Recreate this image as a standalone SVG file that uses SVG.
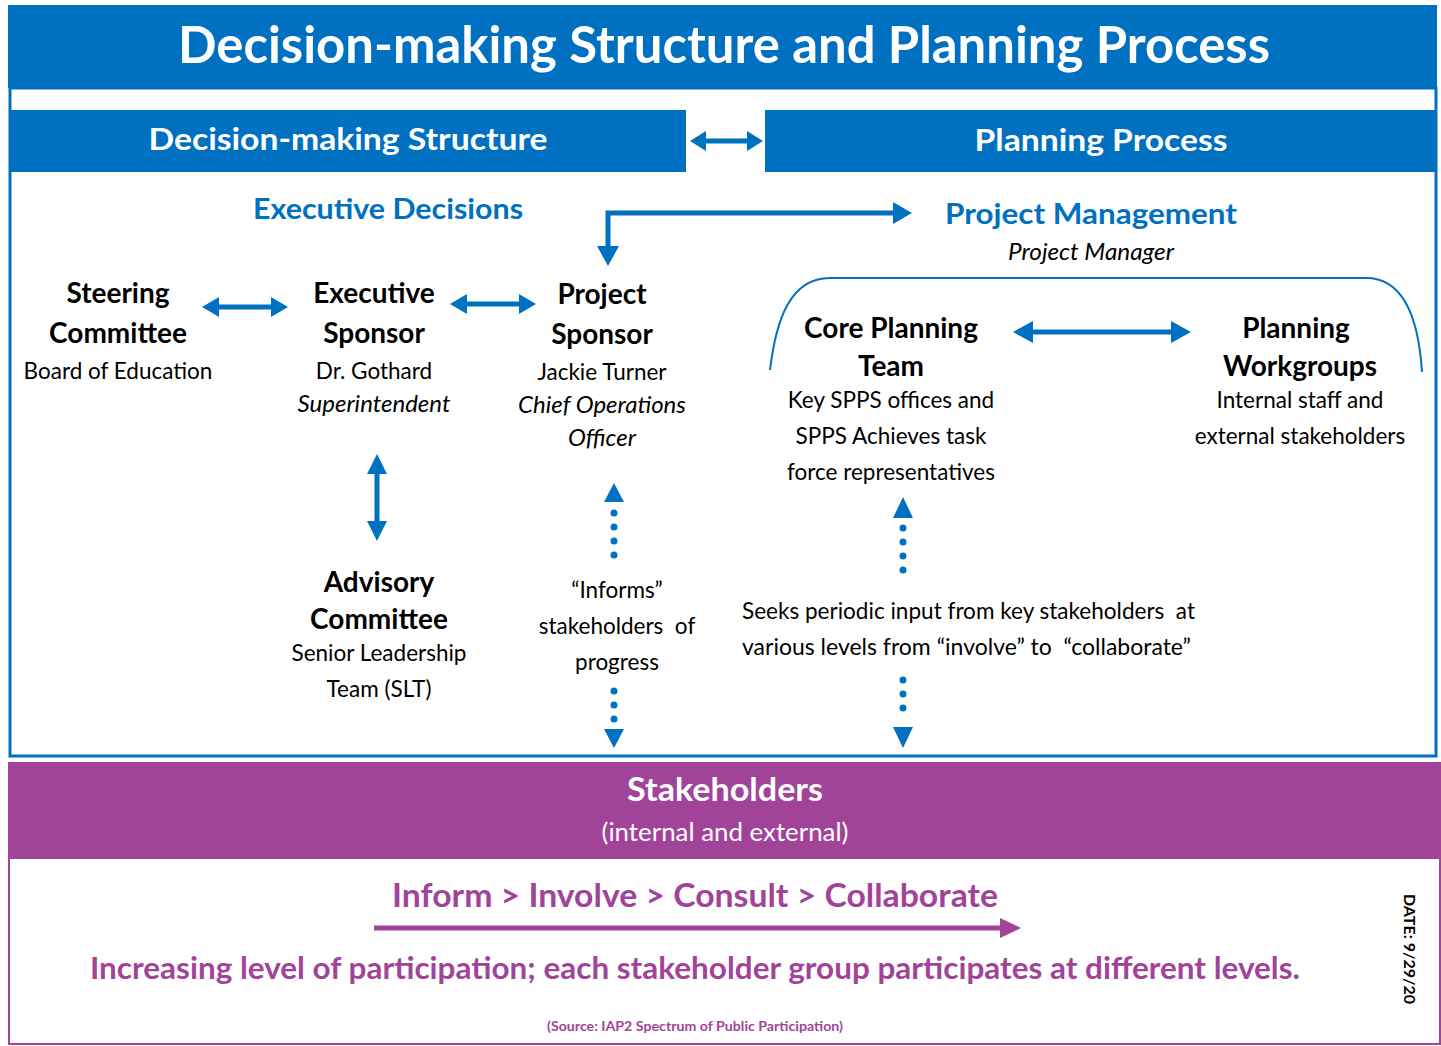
<svg xmlns="http://www.w3.org/2000/svg" width="1441" height="1046" viewBox="0 0 1441 1046">
<defs>
<style>
text{font-family:Lato,"Open Sans","Liberation Sans",sans-serif;text-anchor:middle}
.w{fill:#fff;font-weight:bold}
.h{fill:#0070C0;font-weight:bold;font-size:29px}
.b{fill:#000;font-weight:bold;font-size:28px}
.r{fill:#000;font-size:22.5px}
.i{fill:#000;font-size:24px;font-style:italic}
.p{fill:#A2439A;font-weight:bold}
.ln{stroke:#0070C0;stroke-width:5;fill:none}
.dot{stroke:#0070C0;stroke-width:7;stroke-linecap:round;stroke-dasharray:0 14;fill:none}
.ah{fill:#0070C0}
</style>
</defs>
<rect x="0" y="0" width="1441" height="1046" fill="#fff"/>
<!-- frames -->
<rect x="10" y="88" width="1426" height="668" fill="#fff" stroke="#0070C0" stroke-width="3"/>
<rect x="8" y="5" width="1429" height="83" fill="#0070C0"/>
<text class="w" x="724" y="63" font-size="52" textLength="1092" lengthAdjust="spacingAndGlyphs">Decision-making Structure and Planning Process</text>
<g id="hdr-dms">
<rect x="10" y="110" width="676" height="62" fill="#0070C0"/>
<text class="w" x="348" y="150" font-size="30" textLength="399" lengthAdjust="spacingAndGlyphs">Decision-making Structure</text>
</g>
<g id="hdr-pp">
<rect x="765" y="110" width="671" height="62" fill="#0070C0"/>
<text class="w" x="1101" y="151" font-size="30" textLength="253" lengthAdjust="spacingAndGlyphs">Planning Process</text>
</g>
<g id="exec-decisions"><text class="h" x="388" y="219" textLength="270" lengthAdjust="spacingAndGlyphs">Executive Decisions</text></g>
<g id="project-management">
<text class="h" x="1091" y="224" textLength="292" lengthAdjust="spacingAndGlyphs">Project Management</text>
<text class="i" x="1091" y="260" textLength="166" lengthAdjust="spacingAndGlyphs">Project Manager</text>
<path d="M770,370 C776,320 790,278 830,278 L1366,278 C1400,278 1418,310 1422,372" fill="none" stroke="#0070C0" stroke-width="2"/>
</g>
<!-- nodes -->
<g id="steering">
<text class="b" x="118" y="303">Steering</text>
<text class="b" x="118" y="343">Committee</text>
<text class="r" x="118" y="379">Board of Education</text>
</g>
<g id="exec-sponsor">
<text class="b" x="374" y="303">Executive</text>
<text class="b" x="374" y="343">Sponsor</text>
<text class="r" x="374" y="379">Dr. Gothard</text>
<text class="i" x="374" y="412">Superintendent</text>
</g>
<g id="project-sponsor">
<text class="b" x="602" y="304">Project</text>
<text class="b" x="602" y="344">Sponsor</text>
<text class="r" x="602" y="380">Jackie Turner</text>
<text class="i" x="602" y="413">Chief Operations</text>
<text class="i" x="602" y="446">Officer</text>
</g>
<g id="advisory">
<text class="b" x="379" y="592">Advisory</text>
<text class="b" x="379" y="629">Committee</text>
<text class="r" x="379" y="661">Senior Leadership</text>
<text class="r" x="379" y="697">Team (SLT)</text>
</g>
<g id="core-planning">
<text class="b" x="891" y="338">Core Planning</text>
<text class="b" x="891" y="376">Team</text>
<text class="r" x="891" y="408">Key SPPS offices and</text>
<text class="r" x="891" y="444">SPPS Achieves task</text>
<text class="r" x="891" y="480">force representatives</text>
</g>
<g id="workgroups">
<text class="b" x="1296" y="338">Planning</text>
<text class="b" x="1300" y="376">Workgroups</text>
<text class="r" x="1300" y="408">Internal staff and</text>
<text class="r" x="1300" y="444">external stakeholders</text>
</g>
<g id="informs-label">
<text class="r" x="617" y="598">“Informs”</text>
<text class="r" x="617" y="634" xml:space="preserve">stakeholders  of</text>
<text class="r" x="617" y="670">progress</text>
</g>
<g id="seeks-label">
<text class="r" x="742" y="619" style="text-anchor:start" xml:space="preserve" textLength="453" lengthAdjust="spacingAndGlyphs">Seeks periodic input from key stakeholders  at</text>
<text class="r" x="742" y="655" style="text-anchor:start" xml:space="preserve" textLength="449" lengthAdjust="spacingAndGlyphs">various levels from “involve” to  “collaborate”</text>
</g>
<g id="stakeholders">
<rect x="8" y="762" width="1433" height="96" fill="#A2439A"/>
<text class="w" x="725" y="801" font-size="33" textLength="196" lengthAdjust="spacingAndGlyphs">Stakeholders</text>
<text x="725" y="841" font-size="25" fill="#fff" textLength="247" lengthAdjust="spacingAndGlyphs">(internal and external)</text>
</g>
<g id="participation">
<rect x="9" y="858" width="1431" height="186" fill="#fff" stroke="#A2439A" stroke-width="2"/>
<text class="p" x="695" y="907" font-size="32" textLength="606" lengthAdjust="spacingAndGlyphs">Inform &gt; Involve &gt; Consult &gt; Collaborate</text>
<line x1="374" y1="928" x2="1002" y2="928" stroke="#A2439A" stroke-width="5"/>
<polygon points="1000,918 1021,928 1000,938" fill="#A2439A"/>
<text class="p" x="695" y="979" font-size="30" textLength="1210" lengthAdjust="spacingAndGlyphs">Increasing level of participation; each stakeholder group participates at different levels.</text>
<text class="p" x="695" y="1031" font-size="14" textLength="296" lengthAdjust="spacingAndGlyphs">(Source: IAP2 Spectrum of Public Participation)</text>
<text x="0" y="0" font-size="16" font-weight="bold" fill="#000" transform="translate(1404,949) rotate(90)">DATE: 9/29/20</text>
</g>
<!-- connectors -->
<g id="connectors">
<line class="ln" x1="704" y1="141" x2="748" y2="141"/>
<polygon class="ah" points="690,141 706,131 706,151"/>
<polygon class="ah" points="763,141 747,131 747,151"/>
<path class="ln" d="M608,248 L608,213 L896,213"/>
<polygon class="ah" points="912,213 893,202 893,224"/>
<polygon class="ah" points="608,266 597,246 619,246"/>
<line class="ln" x1="216" y1="307" x2="274" y2="307"/>
<polygon class="ah" points="202,307 219,297 219,317"/>
<polygon class="ah" points="288,307 271,297 271,317"/>
<line class="ln" x1="464" y1="304" x2="522" y2="304"/>
<polygon class="ah" points="450,304 467,294 467,314"/>
<polygon class="ah" points="536,304 519,294 519,314"/>
<line class="ln" x1="377" y1="470" x2="377" y2="525"/>
<polygon class="ah" points="377,454 367,474 387,474"/>
<polygon class="ah" points="377,541 367,521 387,521"/>
<line class="ln" x1="1028" y1="332" x2="1176" y2="332"/>
<polygon class="ah" points="1013,332 1033,321 1033,343"/>
<polygon class="ah" points="1191,332 1171,321 1171,343"/>
<polygon class="ah" points="614,483 604,502 624,502"/>
<line class="dot" x1="614" y1="513" x2="614" y2="568"/>
<line class="dot" x1="614" y1="691" x2="614" y2="720"/>
<polygon class="ah" points="614,748 604,729 624,729"/>
<polygon class="ah" points="903,497 893,518 913,518"/>
<line class="dot" x1="903" y1="528" x2="903" y2="584"/>
<line class="dot" x1="903" y1="680" x2="903" y2="722"/>
<polygon class="ah" points="903,748 893,727 913,727"/>
</g>
</svg>
